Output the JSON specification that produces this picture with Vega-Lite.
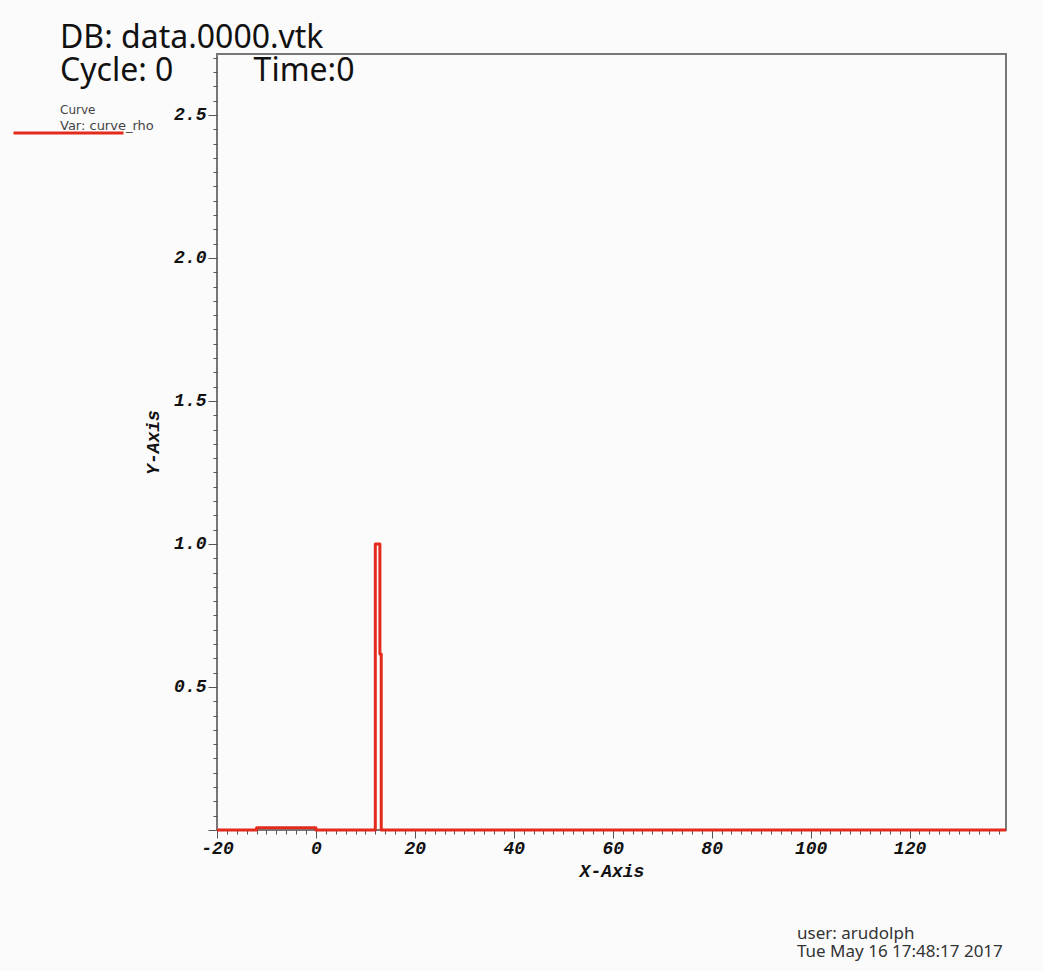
{
  "$schema": "https://vega.github.io/schema/vega-lite/v6.json",
  "background": "#fbfbfb",
  "padding": {"left": 60, "top": 21, "right": 35, "bottom": 10},
  "title": {
    "text": ["DB: data.0000.vtk", "Cycle: 0\u00a0\u00a0\u00a0\u00a0\u00a0\u00a0\u00a0\u00a0\u00a0\u2009Time:0"],
    "anchor": "start",
    "frame": "group",
    "dx": -157,
    "offset": -40,
    "font": "Noto Sans",
    "fontSize": 32,
    "fontWeight": "normal",
    "color": "#111111",
    "lineHeight": 33
  },
  "vconcat": [
    {
      "width": 789,
      "height": 776,
      "title": {
        "text": ["user: arudolph", "Tue May 16 17:48:17 2017"],
        "orient": "bottom",
        "anchor": "start",
        "frame": "group",
        "align": "left",
        "dx": 580,
        "offset": 46,
        "font": "Noto Sans",
        "fontSize": 17,
        "fontWeight": "normal",
        "color": "#333333",
        "lineHeight": 18
      },
      "data": {
        "values": [
          {"i": 0, "x": -20, "rho": 0, "var": "Var: curve_rho"},
          {"i": 1, "x": -12, "rho": 0, "var": "Var: curve_rho"},
          {"i": 2, "x": -12, "rho": 0.008, "var": "Var: curve_rho"},
          {"i": 3, "x": 0, "rho": 0.008, "var": "Var: curve_rho"},
          {"i": 4, "x": 0, "rho": 0, "var": "Var: curve_rho"},
          {"i": 5, "x": 12, "rho": 0, "var": "Var: curve_rho"},
          {"i": 6, "x": 12, "rho": 1.0, "var": "Var: curve_rho"},
          {"i": 7, "x": 12.93, "rho": 1.0, "var": "Var: curve_rho"},
          {"i": 8, "x": 12.93, "rho": 0.615, "var": "Var: curve_rho"},
          {"i": 9, "x": 13.2, "rho": 0.615, "var": "Var: curve_rho"},
          {"i": 10, "x": 13.2, "rho": 0, "var": "Var: curve_rho"},
          {"i": 11, "x": 139.5, "rho": 0, "var": "Var: curve_rho"}
        ]
      },
      "mark": {"type": "line", "strokeWidth": 3, "clip": false, "interpolate": "linear", "strokeJoin": "round"},
      "encoding": {
        "x": {
          "field": "x",
          "type": "quantitative",
          "scale": {"domain": [-20, 139.5], "nice": false, "zero": false},
          "axis": {
            "title": "X-Axis",
            "values": [-20,-18,-16,-14,-12,-10,-8,-6,-4,-2,0,2,4,6,8,10,12,14,16,18,20,22,24,26,28,30,32,34,36,38,40,42,44,46,48,50,52,54,56,58,60,62,64,66,68,70,72,74,76,78,80,82,84,86,88,90,92,94,96,98,100,102,104,106,108,110,112,114,116,118,120,122,124,126,128,130,132,134,136,138],
            "labelExpr": "datum.value % 20 == 0 ? toString(datum.value) : ''",
            "tickSize": {"condition": {"test": "datum.value % 20 == 0", "value": 8}, "value": 4},
            "labelPadding": 1,
            "titlePadding": 5
          }
        },
        "y": {
          "field": "rho",
          "type": "quantitative",
          "scale": {"domain": [0, 2.713], "nice": false, "zero": false},
          "axis": {
            "title": "Y-Axis",
            "values": [0,0.05,0.1,0.15,0.2,0.25,0.3,0.35,0.4,0.45,0.5,0.55,0.6,0.65,0.7,0.75,0.8,0.85,0.9,0.95,1,1.05,1.1,1.15,1.2,1.25,1.3,1.35,1.4,1.45,1.5,1.55,1.6,1.65,1.7,1.75,1.8,1.85,1.9,1.95,2,2.05,2.1,2.15,2.2,2.25,2.3,2.35,2.4,2.45,2.5,2.55,2.6,2.65,2.7],
            "labelExpr": "datum.value > 0.01 && abs(datum.value * 2 - round(datum.value * 2)) < 0.001 ? format(datum.value, '.1f') : ''",
            "tickSize": {"condition": {"test": "abs(datum.value * 2 - round(datum.value * 2)) < 0.001", "value": 9}, "value": 4},
            "labelPadding": 2,
            "titlePadding": 11
          }
        },
        "color": {
          "field": "var",
          "type": "nominal",
          "scale": {"range": ["#e42a1d"]},
          "legend": {
            "title": "Curve",
            "orient": "none",
            "legendX": -157,
            "legendY": 51,
            "padding": 0,
            "titleFont": "DejaVu Sans",
            "titleFontSize": 12,
            "titleFontWeight": "normal",
            "titleColor": "#444444",
            "titlePadding": 2,
            "labelFont": "DejaVu Sans",
            "labelFontSize": 13,
            "labelColor": "#444444",
            "labelOffset": -13,
            "symbolType": "M-10.6,1.5H11.4",
            "symbolSize": 100,
            "symbolStrokeWidth": 3,
            "symbolFillColor": "transparent"
          }
        },
        "order": {"field": "i", "type": "quantitative"}
      }
    }
  ],
  "config": {
    "view": {"stroke": "#777777", "strokeWidth": 2},
    "axis": {
      "domain": false,
      "grid": false,
      "labelFont": "Liberation Mono",
      "labelFontWeight": "bold",
      "labelFontStyle": "italic",
      "labelFontSize": 18,
      "labelColor": "#111111",
      "labelOverlap": false,
      "labelFlush": false,
      "labelBound": false,
      "titleFont": "Liberation Mono",
      "titleFontWeight": "bold",
      "titleFontStyle": "italic",
      "titleFontSize": 18,
      "titleColor": "#111111",
      "tickColor": "#555555",
      "tickWidth": 1
    }
  }
}
